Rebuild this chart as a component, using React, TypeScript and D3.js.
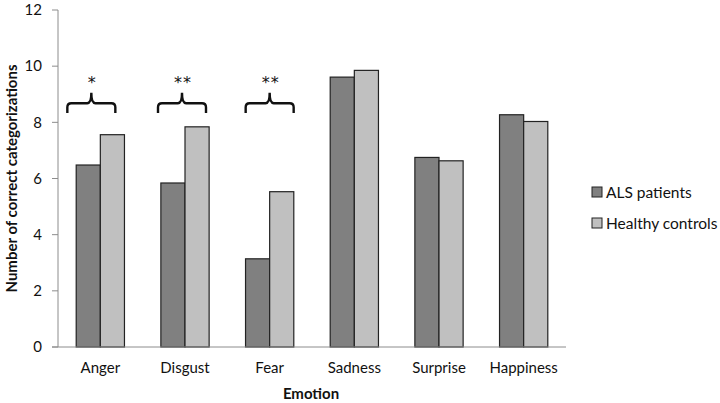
import React from "react";
import * as d3 from "d3";

const emotions = ["Anger", "Disgust", "Fear", "Sadness", "Surprise", "Happiness"];
const alsPatients = [6.48, 5.84, 3.14, 9.61, 6.75, 8.27];
const healthyControls = [7.56, 7.84, 5.53, 9.85, 6.63, 8.03];
const seriesNames = ["ALS patients", "Healthy controls"];
const seriesColors = ["#808080", "#c0c0c0"];
const yTicks = [0, 2, 4, 6, 8, 10, 12];

// significance markers above groups
const sigEmotions = ["Anger", "Disgust", "Fear"];
const sigLabels = ["*", "**", "**"];
const sigShift = [-9, -3, 0];

const W = 720;
const H = 403;
const margin = { left: 58, right: 154, top: 10, bottom: 56 };
const FONT = "Lato, 'Open Sans', sans-serif";

export default function App() {
  const innerRight = W - margin.right;
  const x = d3
    .scaleBand<string>()
    .domain(emotions)
    .range([margin.left, innerRight])
    .paddingInner(0.43)
    .paddingOuter(0.215);
  const sub = d3
    .scaleBand<number>()
    .domain([0, 1])
    .range([0, x.bandwidth()]);
  const y = d3.scaleLinear().domain([0, 12]).range([H - margin.bottom, margin.top]);

  const series = [alsPatients, healthyControls];

  const brace = (cx: number, half: number) => {
    const yb = y(8.33);
    const yh = y(8.68);
    const yp = y(9.05);
    const r = 4;
    const p = d3.path();
    p.moveTo(cx - half, yb);
    p.lineTo(cx - half, yh + r);
    p.quadraticCurveTo(cx - half, yh, cx - half + r, yh);
    p.lineTo(cx - r, yh);
    p.quadraticCurveTo(cx, yh, cx, yp);
    p.quadraticCurveTo(cx, yh, cx + r, yh);
    p.lineTo(cx + half - r, yh);
    p.quadraticCurveTo(cx + half, yh, cx + half, yh + r);
    p.lineTo(cx + half, yb);
    return p.toString();
  };

  return (
    <svg
      width={W}
      height={H}
      style={{ position: "absolute", left: 0, top: 0, background: "#fff" }}
      fontFamily={FONT}
    >
      {/* bars */}
      {emotions.map((e, i) => (
        <g key={e}>
          {series.map((s, j) => (
            <rect
              key={j}
              x={(x(e) as number) + (sub(j) as number)}
              y={y(s[i])}
              width={sub.bandwidth()}
              height={y(0) - y(s[i])}
              fill={seriesColors[j]}
              stroke="#222"
              strokeWidth={1.2}
            />
          ))}
        </g>
      ))}

      {/* axes */}
      <line x1={margin.left} x2={margin.left} y1={y(12)} y2={y(0)} stroke="#8c8c8c" strokeWidth={1} />
      <line x1={margin.left - 6} x2={innerRight} y1={y(0)} y2={y(0)} stroke="#8c8c8c" strokeWidth={1} />
      {yTicks.map((t) => (
        <g key={t}>
          <line x1={margin.left - 6} x2={margin.left} y1={y(t)} y2={y(t)} stroke="#8c8c8c" />
          <text x={margin.left - 16} y={y(t)} dy="0.35em" textAnchor="end" fontSize={15} fill="#111">
            {t}
          </text>
        </g>
      ))}
      {emotions.map((e) => (
        <text
          key={e}
          x={(x(e) as number) + x.bandwidth() / 2}
          y={y(0) + 26}
          textAnchor="middle"
          fontSize={15}
          fill="#111"
        >
          {e}
        </text>
      ))}
      <text x={311} y={H - 4} textAnchor="middle" fontSize={15} fontWeight="bold" fill="#111">
        Emotion
      </text>
      <text
        transform={`translate(17,${(y(0) + y(12)) / 2}) rotate(-90)`}
        textAnchor="middle"
        fontSize={15}
        fontWeight="bold"
        fill="#111"
      >
        Number of correct categorizations
      </text>

      {/* significance braces */}
      {sigEmotions.map((e, k) => {
        const cx = (x(e) as number) + x.bandwidth() / 2 + sigShift[k];
        return (
          <g key={e}>
            <path d={brace(cx, 24)} fill="none" stroke="#111" strokeWidth={2.4} />
            <text
              x={cx + 1}
              y={y(9.22)}
              textAnchor="middle"
              fontSize={16}
              fontFamily="'DejaVu Sans', sans-serif"
              letterSpacing={1}
              fill="#111"
            >
              {sigLabels[k]}
            </text>
          </g>
        );
      })}

      {/* legend */}
      {seriesNames.map((n, j) => (
        <g key={n} transform={`translate(592,${187 + j * 31})`}>
          <rect width={10} height={10} fill={seriesColors[j]} stroke="#222" strokeWidth={1} />
          <text x={14} y={5} dy="0.36em" fontSize={15.5} fill="#111">
            {n}
          </text>
        </g>
      ))}
    </svg>
  );
}
